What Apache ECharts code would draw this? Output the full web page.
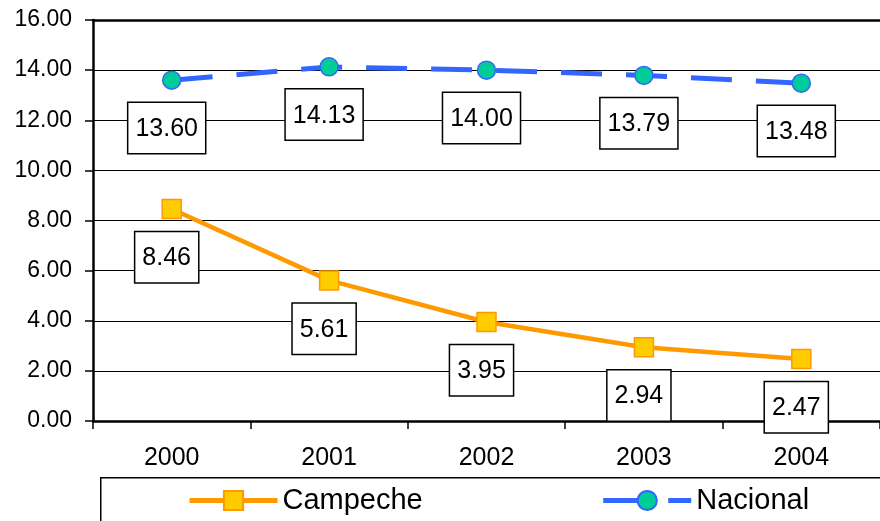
<!DOCTYPE html>
<html>
<head>
<meta charset="utf-8">
<script src="https://cdn.jsdelivr.net/npm/echarts@6/dist/echarts.min.js"></script>
<style>
  html, body { margin: 0; padding: 0; background: #fff; }
  #container { width: 880px; height: 521px; }
</style>
</head>
<body>
<div id="container"></div>
<script>
var years = ['2000', '2001', '2002', '2003', '2004'];
var campeche = [8.46, 5.61, 3.95, 2.94, 2.47];
var nacional = [13.60, 14.13, 14.00, 13.79, 13.48];

var font = "'Liberation Sans', Arial, sans-serif";

let chart = echarts.init(document.getElementById('container'));

var boxLabel = {
    show: true,
    position: 'bottom',
    distance: 13,
    offset: [-5, 0],
    formatter: function (p) { return p.value.toFixed(2); },
    fontFamily: font,
    fontSize: 25,
    lineHeight: 28,
    color: '#000',
    backgroundColor: '#fff',
    borderColor: '#000',
    borderWidth: 1.5,
    padding: [12, 7, 10, 7]
};

var option = {
    animation: false,
    textStyle: { fontFamily: font },
    grid: {
        left: 93,
        top: 20,
        width: 796,
        height: 401
    },
    // legend frame, runs past the right and bottom edges like the original
    graphic: [{
        type: 'rect',
        left: 100,
        top: 477,
        shape: { width: 820, height: 80 },
        style: { fill: '#fff', stroke: '#000', lineWidth: 1.5 },
        z: 0
    }],
    legend: {
        left: 100,
        top: 486,
        padding: [0, 0, 0, 87],
        itemWidth: 88,
        itemHeight: 24,
        itemGap: 178,
        lineStyle: { width: 5 },
        textStyle: { fontFamily: font, fontSize: 29, color: '#000' },
        data: ['Campeche', 'Nacional']
    },
    xAxis: [{
        type: 'category',
        data: years,
        boundaryGap: true,
        axisLine: { lineStyle: { color: '#000', width: 2.5 } },
        axisTick: { show: true, length: 8, lineStyle: { color: '#000', width: 1.5 } },
        axisLabel: { fontSize: 25, color: '#000', margin: 25, fontFamily: font },
        splitLine: { show: false }
    }, {
        type: 'category',
        data: years,
        position: 'top',
        axisLine: { lineStyle: { color: '#000', width: 2.5 } },
        axisTick: { show: false },
        axisLabel: { show: false },
        splitLine: { show: false }
    }],
    yAxis: {
        type: 'value',
        min: 0,
        max: 16,
        interval: 2,
        axisLine: { show: true, lineStyle: { color: '#000', width: 2.5 } },
        axisTick: { show: true, length: 8, lineStyle: { color: '#000', width: 1.5 } },
        axisLabel: {
            fontSize: 23, color: '#000', margin: 21, fontFamily: font,
            formatter: function (v) { return v.toFixed(2); }
        },
        splitLine: { lineStyle: { color: '#000', width: 1.2 } }
    },
    series: [
        {
            name: 'Campeche',
            type: 'line',
            data: campeche,
            symbol: 'rect',
            symbolSize: 19,
            z: 3,
            lineStyle: { color: '#FF9900', width: 4.5 },
            itemStyle: { color: '#FFCC00', borderColor: '#FF9900', borderWidth: 1.5 },
            label: boxLabel
        },
        {
            name: 'Nacional',
            type: 'line',
            data: nacional,
            symbol: 'circle',
            symbolSize: 18,
            z: 3,
            lineStyle: { color: '#3366FF', width: 5, type: [41, 24] },
            itemStyle: { color: '#00CC99', borderColor: '#3366FF', borderWidth: 1.5 },
            label: boxLabel
        }
    ]
};

chart.setOption(option);
</script>
</body>
</html>
